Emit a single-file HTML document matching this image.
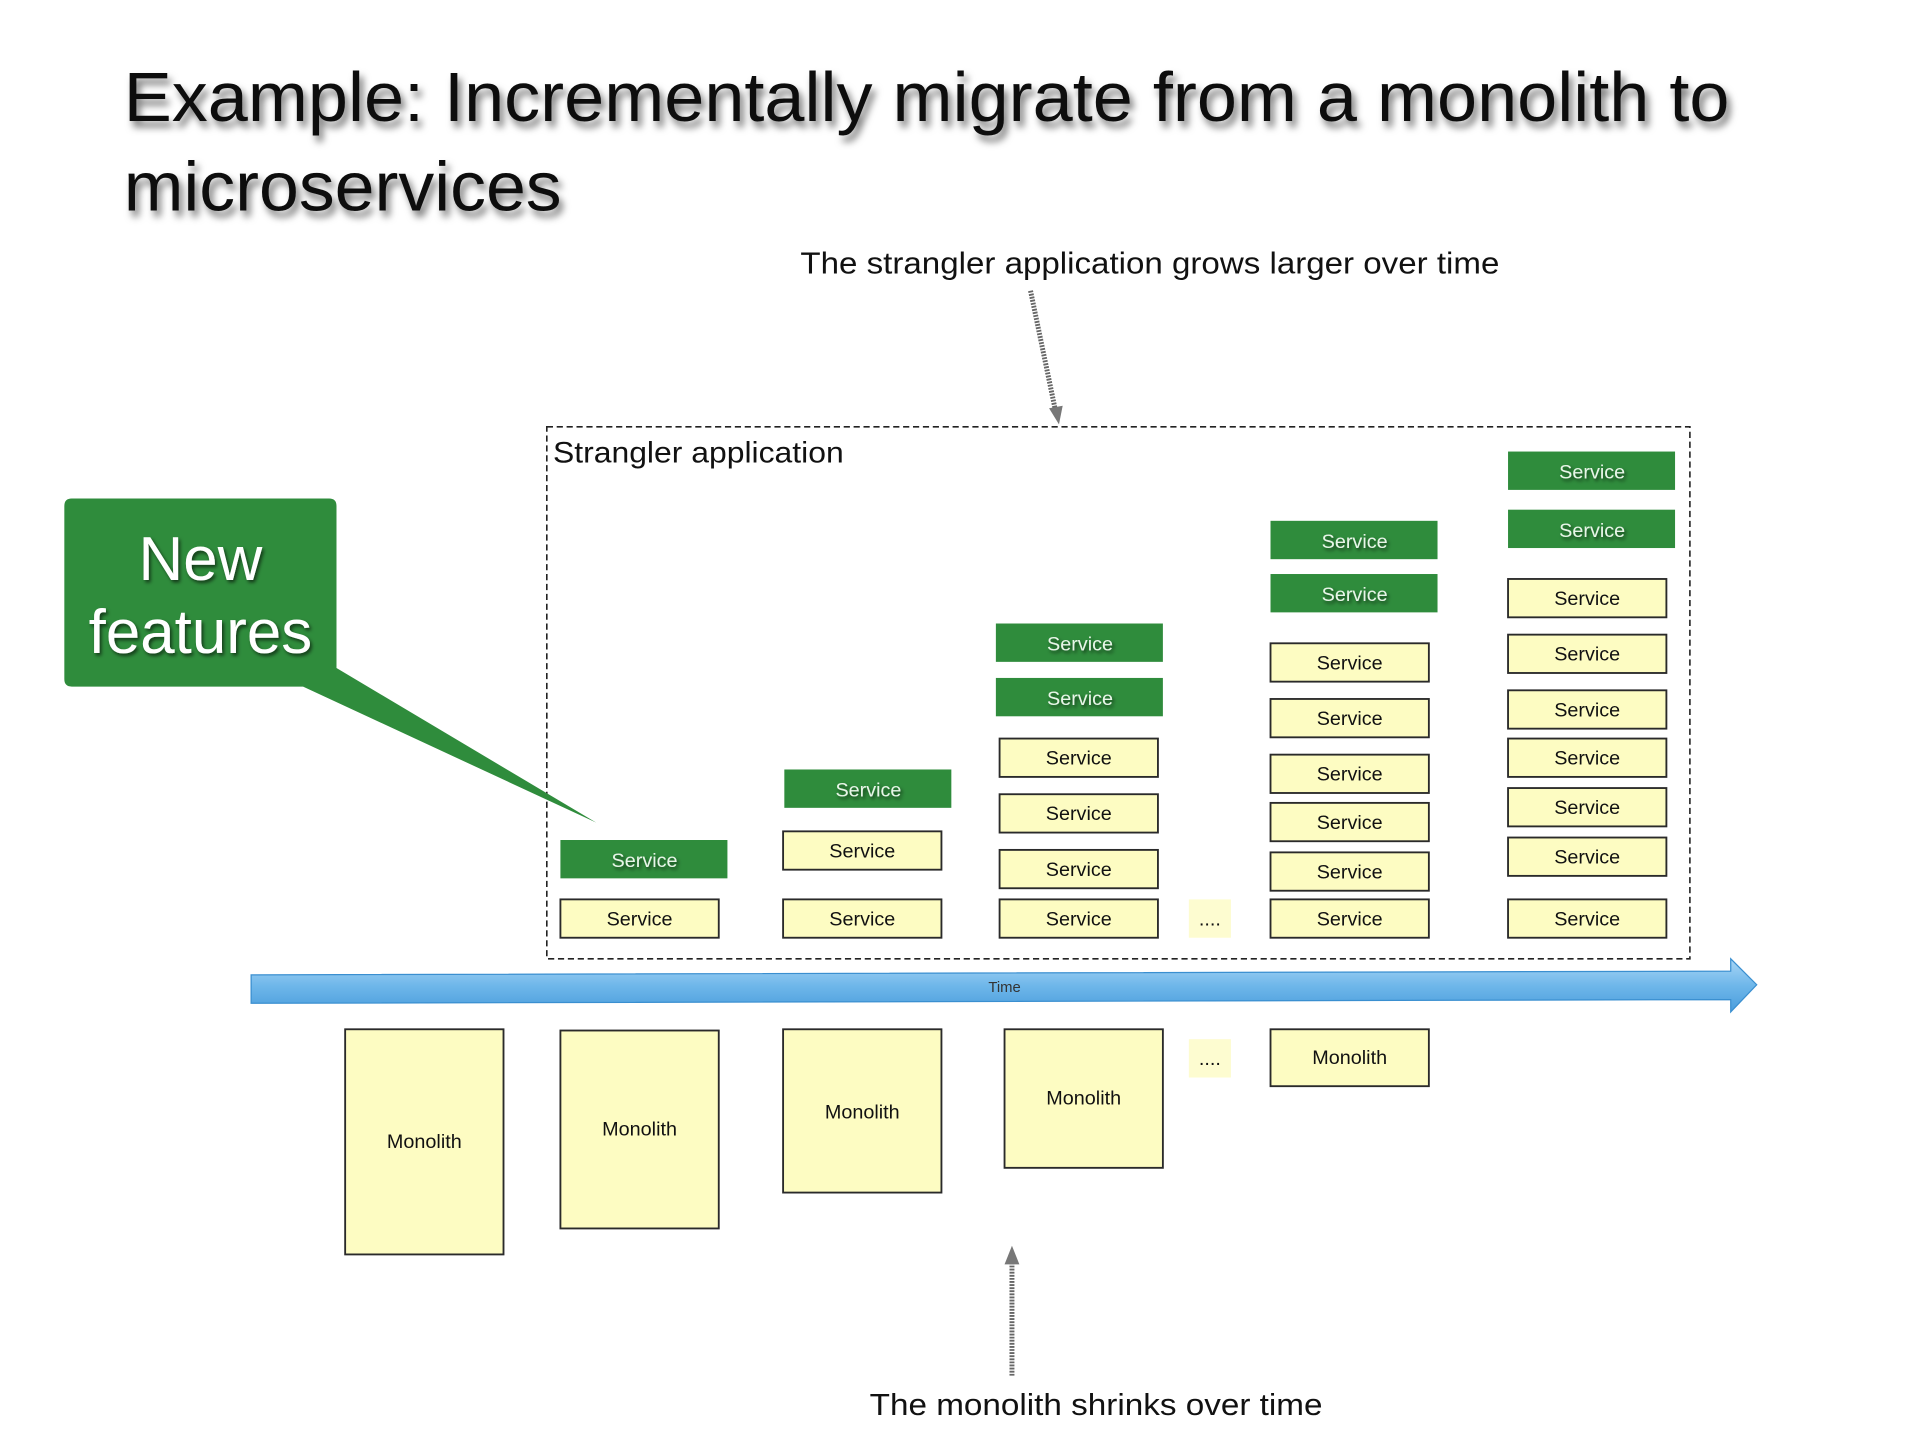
<!DOCTYPE html>
<html><head><meta charset="utf-8"><style>
html,body{margin:0;padding:0;background:#fff;width:1920px;height:1440px;overflow:hidden}
svg{display:block}
text{font-family:"Liberation Sans",sans-serif}
</style></head><body>
<svg width="1920" height="1440" viewBox="0 0 1552 1164" xmlns="http://www.w3.org/2000/svg">
<defs>
<filter id="ts" x="-5%" y="-20%" width="115%" height="160%"><feDropShadow dx="3" dy="5" stdDeviation="3" flood-color="#000" flood-opacity="0.55"/></filter>
<filter id="gs"><feDropShadow dx="1.5" dy="2" stdDeviation="1.5" flood-color="#000" flood-opacity="0.6"/></filter>
<linearGradient id="tg" x1="0" y1="0" x2="0" y2="1"><stop offset="0" stop-color="#a9d6f5"/><stop offset="0.5" stop-color="#6fb7ea"/><stop offset="1" stop-color="#4a9ddc"/></linearGradient>
</defs>
<g filter="url(#ts)" fill="#111">
<text x="100" y="98" font-size="56" textLength="1298" lengthAdjust="spacingAndGlyphs">Example: Incrementally migrate from a monolith to</text>
<text x="100" y="170" font-size="56" textLength="354" lengthAdjust="spacingAndGlyphs">microservices</text>
</g>
<text x="647" y="221" font-size="25" fill="#111" textLength="565" lengthAdjust="spacingAndGlyphs">The strangler application grows larger over time</text>
<line x1="833" y1="235" x2="854" y2="336" stroke="#666" stroke-width="4" stroke-dasharray="1.5 1"/>
<path d="M848,330 L856,343 L859,328 Z" fill="#777"/>
<rect x="442" y="345" width="924" height="430" fill="none" stroke="#222" stroke-width="1.3" stroke-dasharray="5 3"/>
<text x="447" y="374" font-size="24" fill="#111" textLength="235" lengthAdjust="spacingAndGlyphs">Strangler application</text>
<path d="M58,403 H266 Q272,403 272,409 V540 L482,665 L245,555 H58 Q52,555 52,549 V409 Q52,403 58,403 Z" fill="#2f8c3c"/>
<g filter="url(#gs)" fill="#fff" font-size="50" text-anchor="middle">
<text x="162" y="469">New</text>
<text x="162" y="528">features</text>
</g>
<g stroke="#2a2a2a" stroke-width="1.5" fill="#fdfcc2">
<rect x="453" y="727" width="128" height="31"/>
<rect x="633" y="727" width="128" height="31"/><rect x="633" y="672" width="128" height="31"/>
<rect x="808" y="727" width="128" height="31"/><rect x="808" y="687" width="128" height="31"/><rect x="808" y="642" width="128" height="31"/><rect x="808" y="597" width="128" height="31"/>
<rect x="1027" y="727" width="128" height="31"/><rect x="1027" y="689" width="128" height="31"/><rect x="1027" y="649" width="128" height="31"/><rect x="1027" y="610" width="128" height="31"/><rect x="1027" y="565" width="128" height="31"/><rect x="1027" y="520" width="128" height="31"/>
<rect x="1219" y="727" width="128" height="31"/><rect x="1219" y="677" width="128" height="31"/><rect x="1219" y="637" width="128" height="31"/><rect x="1219" y="597" width="128" height="31"/><rect x="1219" y="558" width="128" height="31"/><rect x="1219" y="513" width="128" height="31"/><rect x="1219" y="468" width="128" height="31"/>
<rect x="279" y="832" width="128" height="182"/><rect x="453" y="833" width="128" height="160"/><rect x="633" y="832" width="128" height="132"/><rect x="812" y="832" width="128" height="112"/><rect x="1027" y="832" width="128" height="46"/>
</g>
<rect x="961" y="727" width="34" height="31" fill="#fdfcd0"/>
<rect x="961" y="840" width="34" height="31" fill="#fdfcd0"/>
<g fill="#2f8c3c">
<rect x="453" y="679" width="135" height="31"/><rect x="634" y="622" width="135" height="31"/>
<rect x="805" y="548" width="135" height="31"/><rect x="805" y="504" width="135" height="31"/>
<rect x="1027" y="464" width="135" height="31"/><rect x="1027" y="421" width="135" height="31"/>
<rect x="1219" y="412" width="135" height="31"/><rect x="1219" y="365" width="135" height="31"/>
</g>
<g font-size="16" fill="#111" text-anchor="middle">
<text x="517" y="748">Service</text>
<text x="697" y="748">Service</text><text x="697" y="693">Service</text>
<text x="872" y="748">Service</text><text x="872" y="708">Service</text><text x="872" y="663">Service</text><text x="872" y="618">Service</text>
<text x="1091" y="748">Service</text><text x="1091" y="710">Service</text><text x="1091" y="670">Service</text><text x="1091" y="631">Service</text><text x="1091" y="586">Service</text><text x="1091" y="541">Service</text>
<text x="1283" y="748">Service</text><text x="1283" y="698">Service</text><text x="1283" y="658">Service</text><text x="1283" y="618">Service</text><text x="1283" y="579">Service</text><text x="1283" y="534">Service</text><text x="1283" y="489">Service</text>
<text x="343" y="928">Monolith</text><text x="517" y="918">Monolith</text><text x="697" y="904">Monolith</text><text x="876" y="893">Monolith</text><text x="1091" y="860">Monolith</text>
<text x="978" y="748">....</text><text x="978" y="861">....</text>
</g>
<g font-size="16" fill="#e8f5e8" text-anchor="middle" filter="url(#gs)">
<text x="521" y="701">Service</text><text x="702" y="644">Service</text>
<text x="873" y="570">Service</text><text x="873" y="526">Service</text>
<text x="1095" y="486">Service</text><text x="1095" y="443">Service</text>
<text x="1287" y="434">Service</text><text x="1287" y="387">Service</text>
</g>
<path d="M203,788 L1399,785 L1399,775 L1420,796 L1399,818 L1399,808 L203,811 Z" fill="url(#tg)" stroke="#3a8fd0" stroke-width="1"/>
<text x="812" y="802" font-size="12" fill="#333" text-anchor="middle">Time</text>
<line x1="818" y1="1112" x2="818" y2="1018" stroke="#666" stroke-width="4" stroke-dasharray="1.5 1"/>
<path d="M812,1022 L818,1007 L824,1022 Z" fill="#777"/>
<text x="703" y="1144" font-size="25" fill="#111" textLength="366" lengthAdjust="spacingAndGlyphs">The monolith shrinks over time</text>
</svg>
</body></html>
